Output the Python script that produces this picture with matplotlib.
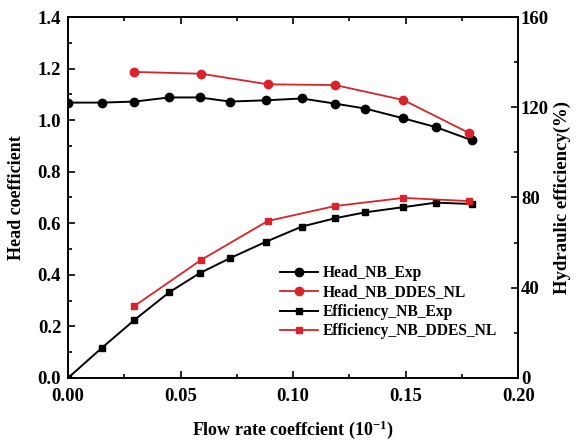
import matplotlib
matplotlib.use("Agg")
from matplotlib import pyplot as plt
from matplotlib.ticker import MultipleLocator

# head coefficient, experiment
head_exp_x = [0.0, 0.0151, 0.0295, 0.0450, 0.0584, 0.0720, 0.0880, 0.1039, 0.1187, 0.1320, 0.1490, 0.1634, 0.1794]
head_exp_y = [1.068, 1.068, 1.072, 1.088, 1.088, 1.072, 1.077, 1.084, 1.064, 1.045, 1.007, 0.973, 0.922]
# head coefficient, DDES
head_sim_x = [0.0295, 0.0591, 0.0888, 0.1187, 0.1490, 0.1780]
head_sim_y = [1.187, 1.180, 1.139, 1.136, 1.078, 0.951]
# efficiency, experiment
eff_exp_x = head_exp_x
eff_exp_y = [0.0, 13.4, 25.7, 38.0, 46.4, 53.1, 60.4, 67.1, 70.8, 73.4, 75.7, 77.7, 77.1]
# efficiency, DDES
eff_sim_x = head_sim_x
eff_sim_y = [31.9, 52.3, 69.6, 76.2, 79.8, 78.4]

red = "#d8232a"
plt.rcParams["font.family"] = "Liberation Serif"
plt.rcParams["font.weight"] = "bold"
plt.rcParams["mathtext.fontset"] = "custom"
plt.rcParams["mathtext.rm"] = "Liberation Serif:bold"
plt.rcParams["mathtext.default"] = "rm"

fig = plt.figure(figsize=(5.77, 4.42), dpi=100)
ax = fig.add_axes([0.118, 0.145, 0.780, 0.8165])
ax2 = ax.twinx()

l1, = ax.plot(head_exp_x, head_exp_y, "-o", color="black", lw=1.4, ms=6, label="Head_NB_Exp")
l2, = ax.plot(head_sim_x, head_sim_y, "-o", color=red, lw=1.3, ms=6, label="Head_NB_DDES_NL")
l3, = ax2.plot(eff_exp_x, eff_exp_y, "-s", color="black", lw=1.4, ms=5, label="Efficiency_NB_Exp")
l4, = ax2.plot(eff_sim_x, eff_sim_y, "-s", color=red, lw=1.3, ms=5, label="Efficiency_NB_DDES_NL")

ax.set_xlim(0, 0.2)
ax.set_ylim(0, 1.4)
ax2.set_ylim(0, 160)
ax.xaxis.set_major_locator(MultipleLocator(0.05))
ax.xaxis.set_minor_locator(MultipleLocator(0.025))
ax.yaxis.set_major_locator(MultipleLocator(0.2))
ax.yaxis.set_minor_locator(MultipleLocator(0.1))
ax2.yaxis.set_major_locator(MultipleLocator(40))
ax2.yaxis.set_minor_locator(MultipleLocator(20))
ax.set_xticks([0, 0.05, 0.1, 0.15, 0.2])
ax.set_xticklabels(["0.00", "0.05", "0.10", "0.15", "0.20"])

ax.tick_params(which="both", direction="in", top=True, right=False, width=1.2, labelsize=13.5)
ax.tick_params(axis="x", pad=7.5)
ax.tick_params(axis="y", pad=5)
ax.tick_params(which="major", length=5)
ax.tick_params(which="minor", length=3)
ax2.tick_params(which="both", direction="in", width=1.2, labelsize=13.5, pad=2)
ax2.tick_params(which="major", length=5)
ax2.tick_params(which="minor", length=3)
for sp in ax.spines.values():
    sp.set_linewidth(1.2)
for sp in ax2.spines.values():
    sp.set_linewidth(1.2)

ax.set_xlabel("Flow rate coeffcient (10$^{-1}$)", fontsize=13, fontweight="bold", labelpad=9.5)
ax.set_ylabel("Head coefficient", fontsize=13, fontweight="bold", labelpad=9)
ax2.set_ylabel("Hydraulic efficiency(%)", fontsize=13.5, fontweight="bold", labelpad=3)

ax.legend(handles=[l1, l2, l3, l4], loc="lower right", bbox_to_anchor=(0.985, 0.068),
          frameon=False, fontsize=11.2, handlelength=2.4, handletextpad=0.35, labelspacing=0.22)

fig.savefig("out.png", dpi=100)
